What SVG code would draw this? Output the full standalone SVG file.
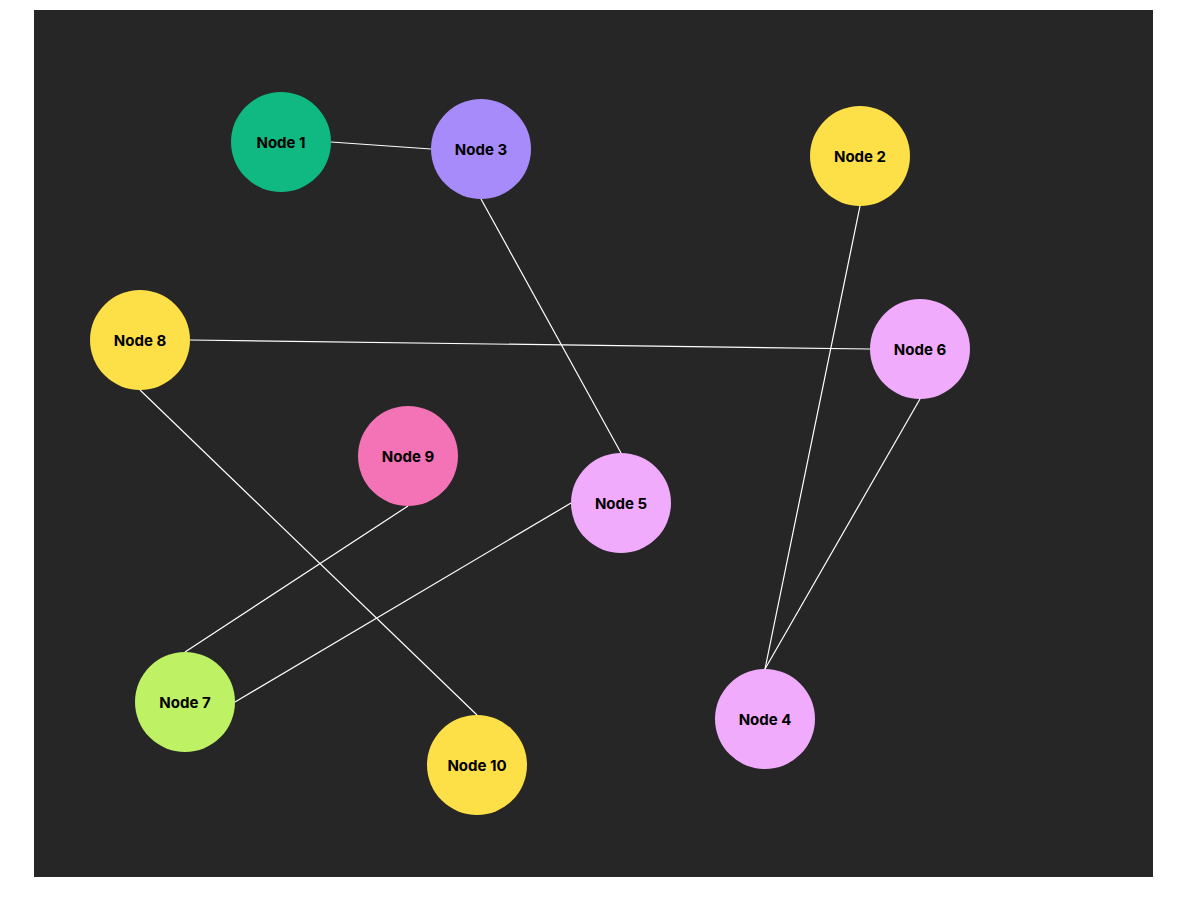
<svg xmlns="http://www.w3.org/2000/svg" width="1187" height="922" viewBox="0 0 1187 922">
<style>
.e{stroke:#fff;stroke-width:1.2;fill:none}
.n text{font-family:Inter,"Liberation Sans",sans-serif;font-weight:700;font-size:15px;fill:#000;text-anchor:middle;dominant-baseline:central}
</style>
<rect width="1187" height="922" fill="#fff"/>
<rect x="34" y="10" width="1119" height="867" fill="#262626"/>
<g id="edges">
<line class="e" x1="331" y1="142" x2="431" y2="149"/>
<line class="e" x1="481" y1="199" x2="621" y2="453"/>
<line class="e" x1="860" y1="206" x2="765" y2="669"/>
<line class="e" x1="920" y1="399" x2="765" y2="669"/>
<line class="e" x1="190" y1="340" x2="870" y2="349"/>
<line class="e" x1="140" y1="390" x2="477" y2="715"/>
<line class="e" x1="408" y1="506" x2="185" y2="652"/>
<line class="e" x1="571" y1="503" x2="235" y2="702"/>
</g>
<g id="node1" class="n"><circle cx="281" cy="142" r="50" fill="#10b981"/><text x="281" y="142">Node 1</text></g>
<g id="node2" class="n"><circle cx="860" cy="156" r="50" fill="#fde047"/><text x="860" y="156">Node 2</text></g>
<g id="node3" class="n"><circle cx="481" cy="149" r="50" fill="#a78bfa"/><text x="481" y="149">Node 3</text></g>
<g id="node4" class="n"><circle cx="765" cy="719" r="50" fill="#f0abfc"/><text x="765" y="719">Node 4</text></g>
<g id="node5" class="n"><circle cx="621" cy="503" r="50" fill="#f0abfc"/><text x="621" y="503">Node 5</text></g>
<g id="node6" class="n"><circle cx="920" cy="349" r="50" fill="#f0abfc"/><text x="920" y="349">Node 6</text></g>
<g id="node7" class="n"><circle cx="185" cy="702" r="50" fill="#bef264"/><text x="185" y="702">Node 7</text></g>
<g id="node8" class="n"><circle cx="140" cy="340" r="50" fill="#fde047"/><text x="140" y="340">Node 8</text></g>
<g id="node9" class="n"><circle cx="408" cy="456" r="50" fill="#f472b6"/><text x="408" y="456">Node 9</text></g>
<g id="node10" class="n"><circle cx="477" cy="765" r="50" fill="#fde047"/><text x="477" y="765">Node 10</text></g>
</svg>
